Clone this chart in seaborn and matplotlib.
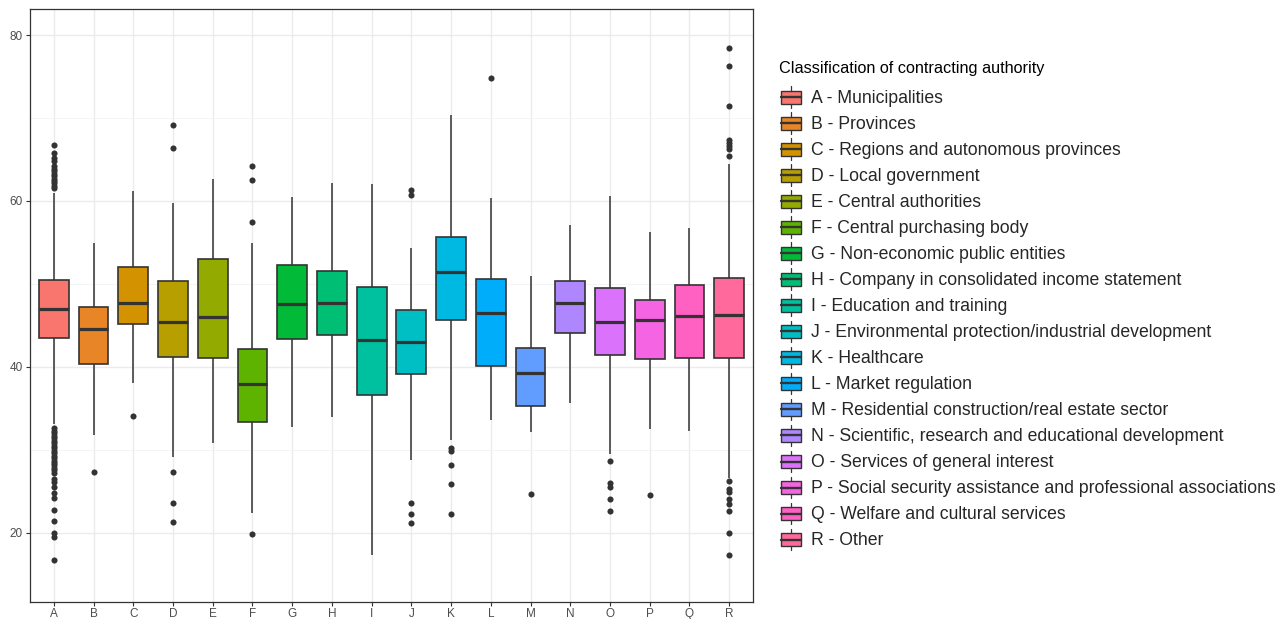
import numpy as np
import pandas as pd
import matplotlib
matplotlib.use("Agg")
import matplotlib.pyplot as plt
import seaborn as sns
from matplotlib.legend_handler import HandlerBase
from matplotlib.patches import Rectangle, Patch
from matplotlib.lines import Line2D

# box statistics
codes = list("ABCDEFGHIJKLMNOPQR")
labels = [
    "A - Municipalities",
    "B - Provinces",
    "C - Regions and autonomous provinces",
    "D - Local government",
    "E - Central authorities",
    "F - Central purchasing body",
    "G - Non-economic public entities",
    "H - Company in consolidated income statement",
    "I - Education and training",
    "J - Environmental protection/industrial development",
    "K - Healthcare",
    "L - Market regulation",
    "M - Residential construction/real estate sector",
    "N - Scientific, research and educational development",
    "O - Services of general interest",
    "P - Social security assistance and professional associations",
    "Q - Welfare and cultural services",
    "R - Other",
]
q1 = [43.5, 40.3, 45.2, 41.2, 41.1, 33.4, 43.3, 43.8, 36.6, 39.1, 45.6, 40.1, 35.3, 44.1, 41.4, 40.9, 41.1, 41.0]
med = [47.0, 44.5, 47.7, 45.4, 46.0, 37.9, 47.6, 47.7, 43.2, 43.0, 51.4, 46.5, 39.3, 47.7, 45.4, 45.7, 46.1, 46.3]
q3 = [50.5, 47.2, 52.0, 50.3, 53.0, 42.1, 52.3, 51.6, 49.6, 46.8, 55.6, 50.6, 42.3, 50.4, 49.5, 48.0, 49.9, 50.7]
whis_lo = [33.1, 31.8, 38.1, 29.1, 30.8, 22.4, 32.7, 34.0, 17.3, 28.8, 31.2, 33.6, 32.1, 35.6, 29.5, 32.5, 32.2, 26.6]
whis_hi = [60.9, 54.9, 61.2, 59.7, 62.7, 54.9, 60.5, 62.1, 62.0, 54.3, 70.4, 60.4, 51.0, 57.1, 60.6, 56.3, 56.7, 64.5]
outliers = [
    [61.5, 61.8, 62.1, 62.4, 62.7, 63.0, 63.3, 63.6, 63.9, 64.2, 64.8, 65.2, 65.8, 66.8,
     32.6, 32.3, 32.0, 31.7, 31.4, 31.1, 30.8, 30.5, 30.2, 29.9, 29.6, 29.3, 29.0, 28.7,
     28.4, 28.1, 27.8, 27.5, 27.2, 26.5, 26.1, 25.5, 24.8, 24.2, 22.7, 21.4, 20.0, 19.5, 16.7],
    [27.3],
    [34.1],
    [69.2, 66.4, 27.3, 23.6, 21.3],
    [],
    [64.2, 62.5, 57.5, 19.8],
    [],
    [],
    [],
    [61.3, 60.7, 23.6, 22.2, 21.2],
    [30.2, 29.8, 28.2, 25.9, 22.2],
    [74.8],
    [24.7],
    [],
    [28.6, 26.0, 25.5, 24.1, 22.6],
    [24.5],
    [],
    [78.4, 76.3, 71.4, 67.4, 67.0, 66.6, 66.2, 65.4,
     26.2, 25.3, 24.9, 24.1, 23.4, 22.6, 20.0, 17.3],
]

# seaborn needs raw values: each quartile is repeated so the box lands exactly on it
rows = []
for i, c in enumerate(codes):
    vals = [whis_lo[i], whis_hi[i]] + outliers[i] + [q1[i]] * 400 + [med[i]] * 400 + [q3[i]] * 400
    for v in vals:
        rows.append((c, labels[i], v))
df = pd.DataFrame(rows, columns=["code", "label", "value"])


def hcl_hex(h, c=100, l=65):
    # ggplot2 hue_pal colours (polar LUV -> sRGB)
    hr = np.deg2rad(h)
    u, v = c * np.cos(hr), c * np.sin(hr)
    Y = ((l + 16) / 116) ** 3
    Xn, Yn, Zn = 0.95047, 1.0, 1.08883
    un = 4 * Xn / (Xn + 15 * Yn + 3 * Zn)
    vn = 9 * Yn / (Xn + 15 * Yn + 3 * Zn)
    up = u / (13 * l) + un
    vp = v / (13 * l) + vn
    X = Y * 9 * up / (4 * vp)
    Z = Y * (12 - 3 * up - 20 * vp) / (4 * vp)
    rgb = np.array([
        3.2404542 * X - 1.5371385 * Y - 0.4985314 * Z,
        -0.9692660 * X + 1.8760108 * Y + 0.0415560 * Z,
        0.0556434 * X - 0.2040259 * Y + 1.0572252 * Z,
    ])
    rgb = np.where(rgb <= 0.0031308, 12.92 * rgb, 1.055 * np.abs(rgb) ** (1 / 2.4) - 0.055)
    return matplotlib.colors.to_hex(np.clip(rgb, 0, 1))


colors = [hcl_hex(15 + 20 * k) for k in range(len(codes))]
line_col = "#333333"

sns.set_style("white")
plt.rcParams["font.family"] = ["Liberation Sans", "DejaVu Sans"]

fig = plt.figure(figsize=(12.87, 6.19), dpi=100)
ax = fig.add_axes([30 / 1287, 1 - 601.5 / 619, 723 / 1287, 593 / 619])

sns.boxplot(data=df, x="code", y="value", hue="label", palette=colors, dodge=False,
            width=0.75, saturation=1, linecolor=line_col, linewidth=1.2,
            showcaps=False, fliersize=4.4, legend=False,
            flierprops=dict(marker="o", markerfacecolor=line_col, markeredgecolor=line_col,
                            markeredgewidth=0),
            medianprops=dict(linewidth=2.3, color=line_col),
            whiskerprops=dict(linewidth=1.1, color=line_col),
            ax=ax)

ax.set_xlim(-0.6, 17.6)
ax.set_ylim(11.7, 83.2)
ax.set_yticks([20, 40, 60, 80])
ax.set_yticks([30, 50, 70], minor=True)
ax.set_axisbelow(True)
ax.grid(True, which="major", color="#EBEBEB", linewidth=1.0)
ax.grid(True, which="minor", axis="y", color="#F2F2F2", linewidth=0.6)
ax.set_xlabel("")
ax.set_ylabel("")
for s in ax.spines.values():
    s.set_color(line_col)
    s.set_linewidth(0.9)
ax.tick_params(axis="both", which="major", length=3, width=0.8, color=line_col,
               labelsize=8.5, labelcolor="#4D4D4D", pad=2, left=True, bottom=True)
ax.tick_params(axis="y", which="minor", length=0)


class BoxKey(HandlerBase):
    # ggplot style key: box with median line and short whiskers
    def create_artists(self, legend, orig_handle, xdescent, ydescent, width, height, fontsize, trans):
        fc = orig_handle.get_facecolor()
        x0, y0 = -xdescent, -ydescent
        xm = x0 + width / 2
        rect = Rectangle((x0 + 0.04 * width, y0 + 0.23 * height), 0.92 * width, 0.54 * height,
                         facecolor=fc, edgecolor=line_col, linewidth=1.0, transform=trans)
        mid = Line2D([x0 + 0.04 * width, x0 + 0.96 * width], [y0 + 0.5 * height] * 2,
                     color=line_col, linewidth=1.7, transform=trans)
        lo = Line2D([xm, xm], [y0 + 0.05 * height, y0 + 0.23 * height], color=line_col,
                    linewidth=0.9, transform=trans)
        hi = Line2D([xm, xm], [y0 + 0.77 * height, y0 + 0.95 * height], color=line_col,
                    linewidth=0.9, transform=trans)
        return [rect, mid, lo, hi]


fig.text(779 / 1287, 1 - 68 / 619, "Classification of contracting authority",
         fontsize=11.7, color="black", ha="left", va="center")

handles = [Patch(facecolor=c) for c in colors]
fig.legend(handles, labels, loc="upper left", bbox_to_anchor=(780 / 1287, 1 - 85 / 619),
           frameon=False, fontsize=12.7, handler_map={Patch: BoxKey()},
           handlelength=1.24, handleheight=1.72, labelspacing=0.113,
           handletextpad=0.51, borderpad=0, borderaxespad=0)

fig.savefig("out.png", dpi=100)
